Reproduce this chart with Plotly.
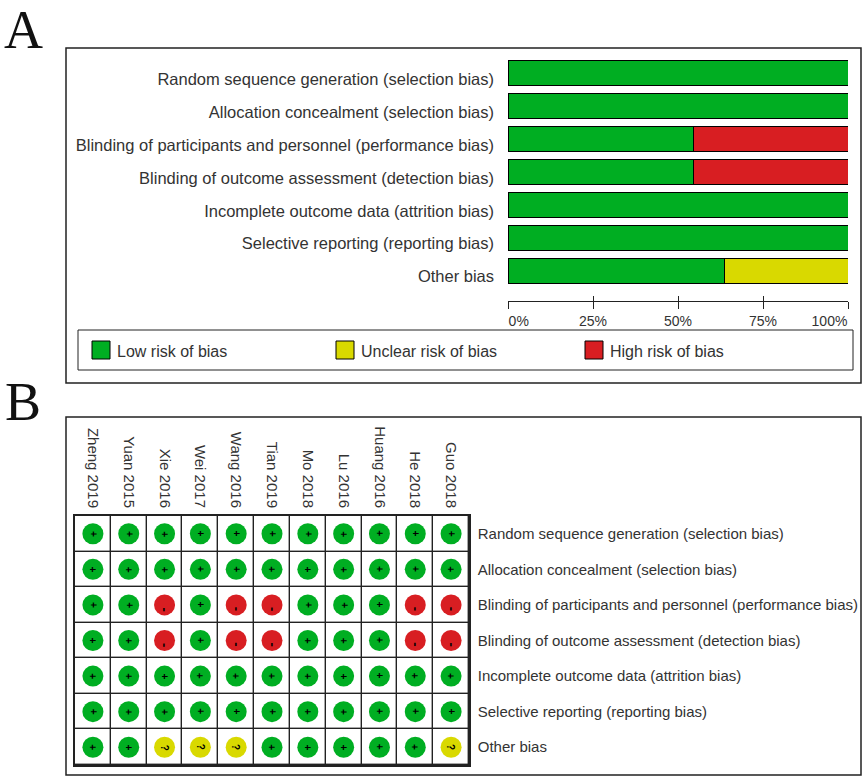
import plotly.graph_objects as go

W, H = 865, 778

# ---------------- data ----------------
domains = [
    "Random sequence generation (selection bias)",
    "Allocation concealment (selection bias)",
    "Blinding of participants and personnel (performance bias)",
    "Blinding of outcome assessment (detection bias)",
    "Incomplete outcome data (attrition bias)",
    "Selective reporting (reporting bias)",
    "Other bias",
]
low_pct = [100, 100, 54.5, 54.5, 100, 100, 63.6]
unclear_pct = [0, 0, 0, 0, 0, 0, 36.4]
high_pct = [0, 0, 45.5, 45.5, 0, 0, 0]

pct_ticks = [0, 25, 50, 75, 100]
pct_labels = ["0%", "25%", "50%", "75%", "100%"]

studies = ["Zheng 2019", "Yuan 2015", "Xie 2016", "Wei 2017", "Wang 2016", "Tian 2019",
           "Mo 2018", "Lu 2016", "Huang 2016", "He 2018", "Guo 2018"]
# judgments per domain (rows) x study (columns)
judgments = [
    ["+", "+", "+", "+", "+", "+", "+", "+", "+", "+", "+"],
    ["+", "+", "+", "+", "+", "+", "+", "+", "+", "+", "+"],
    ["+", "+", "-", "+", "-", "-", "+", "+", "+", "-", "-"],
    ["+", "+", "-", "+", "-", "-", "+", "+", "+", "-", "-"],
    ["+", "+", "+", "+", "+", "+", "+", "+", "+", "+", "+"],
    ["+", "+", "+", "+", "+", "+", "+", "+", "+", "+", "+"],
    ["+", "+", "?", "?", "?", "+", "+", "+", "+", "+", "?"],
]
legend_labels = ["Low risk of bias", "Unclear risk of bias", "High risk of bias"]

GREEN, YELLOW, RED = "#00AE22", "#D9D900", "#D81E22"
color_of = {"+": GREEN, "?": YELLOW, "-": RED}

def px(x):
    return x / W

def py(y):
    return 1 - y / H

FONT = "Liberation Sans, Arial, sans-serif"
SERIF = "Liberation Serif, Times New Roman, serif"

fig = go.Figure()

# ---------------- Panel A: stacked bars ----------------
for vals, col in [(low_pct, GREEN), (unclear_pct, YELLOW), (high_pct, RED)]:
    fig.add_trace(go.Bar(
        y=domains, x=vals, orientation="h", xaxis="x", yaxis="y",
        marker=dict(color=col, line=dict(color="black", width=1)),
        width=0.76, showlegend=False, hoverinfo="skip",
    ))
# empty helper traces so the overlaid percent axes (tick halves / end labels) are drawn
for ax in ["x3", "x4", "x5"]:
    fig.add_trace(go.Scatter(x=[None], y=[None], xaxis=ax, yaxis="y", mode="markers",
                             showlegend=False, hoverinfo="skip"))

# ---------------- Panel B: grid ----------------
nrow, ncol = len(domains), len(studies)
fig.add_trace(go.Heatmap(
    z=[[0] * ncol for _ in range(nrow)], x=list(range(ncol)), y=list(range(nrow)),
    xaxis="x2", yaxis="y2", colorscale=[[0, "white"], [1, "white"]],
    showscale=False, xgap=1.4, ygap=1.4, hoverinfo="skip",
))
mx, my, mc = [], [], []
for r in range(nrow):
    for c in range(ncol):
        mx.append(c)
        my.append(r)
        mc.append(color_of[judgments[r][c]])
fig.add_trace(go.Scatter(
    x=mx, y=my, mode="markers", xaxis="x2", yaxis="y2",
    marker=dict(size=21, color=mc, line=dict(width=0)),
    showlegend=False, hoverinfo="skip",
))

annotations = []
for r in range(nrow):
    for c in range(ncol):
        j = judgments[r][c]
        annotations.append(dict(
            x=c, y=r, xref="x2", yref="y2", text="<b>%s</b>" % j,
            showarrow=False, textangle=90,
            font=dict(family=FONT, size=13 if j == "-" else 10, color="black"),
            yshift=-4 if j == "-" else 0,
        ))

# panel letters
annotations.append(dict(x=px(23), y=py(30), xref="paper", yref="paper", text="A",
                        xanchor="center", yanchor="middle", showarrow=False,
                        font=dict(family=SERIF, size=54, color="#111")))
annotations.append(dict(x=px(23), y=py(402), xref="paper", yref="paper", text="B",
                        xanchor="center", yanchor="middle", showarrow=False,
                        font=dict(family=SERIF, size=54, color="#111")))

# legend (panel A)
shapes = []
leg_x = [92, 336, 585]
for lx, lab, col in zip(leg_x, legend_labels, [GREEN, YELLOW, RED]):
    shapes.append(dict(type="rect", xref="paper", yref="paper",
                       x0=px(lx), x1=px(lx + 18), y0=py(359), y1=py(341),
                       fillcolor=col, line=dict(color="black", width=1)))
    annotations.append(dict(x=px(lx + 23), y=py(351), xref="paper", yref="paper",
                            text=lab, showarrow=False, xanchor="left", yanchor="middle",
                            font=dict(family=FONT, size=16, color="#333")))

# boxes
shapes.append(dict(type="rect", xref="paper", yref="paper", x0=px(66), x1=px(861),
                   y0=py(383), y1=py(48), line=dict(color="#222", width=1.5)))
shapes.append(dict(type="rect", xref="paper", yref="paper", x0=px(78), x1=px(853),
                   y0=py(370), y1=py(330), line=dict(color="#222", width=1)))
shapes.append(dict(type="rect", xref="paper", yref="paper", x0=px(66), x1=px(861),
                   y0=py(775), y1=py(417), line=dict(color="#222", width=1.5)))
# dark backdrop behind the grid so the cell gaps form grid lines
shapes.append(dict(type="rect", xref="x2 domain", yref="y2 domain", x0=0, x1=1, y0=0, y1=1,
                   fillcolor="#222", line=dict(width=0), layer="below"))

pct_axis_common = dict(domain=[px(508), px(848)], range=[0, 100], anchor="free",
                       position=py(301), showgrid=False, zeroline=False,
                       automargin=False, ticklabeloverflow="allow", fixedrange=True,
                       tickfont=dict(size=14, color="#333"))

fig.update_layout(
    width=W, height=H, margin=dict(l=0, r=0, t=0, b=0, autoexpand=False),
    paper_bgcolor="white", plot_bgcolor="white",
    barmode="stack", bargap=0.24,
    font=dict(family=FONT, color="#333"),
    shapes=shapes, annotations=annotations,
    # main percent axis: line, outside ticks, middle labels
    xaxis=dict(**pct_axis_common, tickvals=pct_ticks[1:4], ticktext=pct_labels[1:4],
               ticks="outside", ticklen=7, tickwidth=1.2, tickcolor="#222",
               showline=True, linecolor="#222", linewidth=1.2),
    # overlay: inside tick halves so the ticks cross the axis line
    xaxis3=dict(**pct_axis_common, overlaying="x", tickvals=pct_ticks, showticklabels=False,
                ticks="inside", ticklen=5, tickwidth=1.2, tickcolor="#222", showline=False),
    # overlay: end ticks with labels aligned to the inside
    xaxis4=dict(**pct_axis_common, overlaying="x", tickvals=pct_ticks[:1], ticktext=pct_labels[:1],
                ticks="outside", ticklen=7, tickwidth=1.2, tickcolor="#222", showline=False,
                ticklabelposition="outside right", ticklabelstandoff=7),
    xaxis5=dict(**pct_axis_common, overlaying="x", tickvals=pct_ticks[4:], ticktext=pct_labels[4:],
                ticks="outside", ticklen=7, tickwidth=1.2, tickcolor="#222", showline=False,
                ticklabelposition="outside left", ticklabelstandoff=7),
    yaxis=dict(domain=[py(287), py(57)], type="category", categoryorder="array",
               categoryarray=domains, autorange="reversed", anchor="free", position=px(508),
               showline=False, showgrid=False, zeroline=False, ticks="",
               ticklabelstandoff=14, ticklabelshift=-6,
               tickfont=dict(size=16.5, color="#333"), fixedrange=True,
               automargin=False, ticklabeloverflow="allow"),
    xaxis2=dict(domain=[px(75), px(469)], range=[-0.5, ncol - 0.5], anchor="y2", side="top",
                tickvals=list(range(ncol)), ticktext=studies, tickangle=90,
                showline=True, mirror=True, linecolor="#222", linewidth=1.5,
                showgrid=False, zeroline=False, ticks="", ticklabelstandoff=1,
                tickfont=dict(size=15, color="#333"), automargin=False,
                ticklabeloverflow="allow"),
    yaxis2=dict(domain=[py(765), py(516)], range=[nrow - 0.5, -0.5], anchor="x2", side="right",
                tickvals=list(range(nrow)), ticktext=domains,
                showline=True, mirror=True, linecolor="#222", linewidth=1.5,
                showgrid=False, zeroline=False, ticks="", ticklabelstandoff=4,
                tickfont=dict(size=15, color="#333"), automargin=False,
                ticklabeloverflow="allow"),
)

fig.write_html("out.html", config={"displayModeBar": False},
               post_script="document.body.style.margin='0';")
